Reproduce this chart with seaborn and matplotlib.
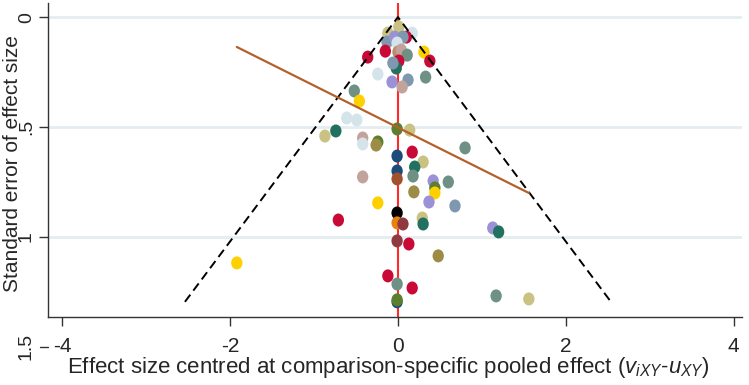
import matplotlib
matplotlib.use("Agg")
import matplotlib.pyplot as plt
import matplotlib.transforms as mtransforms
from matplotlib.path import Path
from matplotlib.transforms import Affine2D
import pandas as pd
import seaborn as sns

# valeurs (effet centré, erreur standard, couleur de la comparaison)
effect = [0.01, -0.12, 0.17, 0.10, -0.13, -0.04, 0.06, -0.01, -0.15, -0.36,
          0.31, 0.38, 0.00, 0.04, 0.11, 0.01, -0.02, -0.06, -0.24, 0.33,
          0.12, -0.07, 0.05, -0.52, -0.46, -0.61, -0.49, -0.87, -0.74, -0.01,
          0.14, -0.42, -0.42, -0.24, -0.26, 0.80, 0.17, -0.01, 0.30, -0.01,
          0.20, 0.18, -0.42, 0.42, 0.60, -0.01, 0.44, 0.19, 0.44, 0.37,
          0.68, -0.24, -0.01, 0.29, 0.30, -0.01, 0.06, -0.71, 1.13, 1.20,
          -0.01, 0.13, 0.48, -0.12, -0.01, 0.17, -0.01, -0.01, 1.17, 1.56,
          -1.92]
se = [0.045, 0.073, 0.073, 0.091, 0.114, 0.091, 0.091, 0.118, 0.155, 0.182,
      0.159, 0.200, 0.159, 0.150, 0.173, 0.200, 0.232, 0.209, 0.259, 0.273,
      0.286, 0.295, 0.318, 0.336, 0.382, 0.459, 0.468, 0.541, 0.518, 0.509,
      0.514, 0.550, 0.577, 0.568, 0.582, 0.595, 0.614, 0.632, 0.659, 0.700,
      0.682, 0.723, 0.727, 0.745, 0.750, 0.736, 0.777, 0.795, 0.800, 0.841,
      0.859, 0.845, 0.891, 0.914, 0.941, 0.936, 0.941, 0.923, 0.959, 0.977,
      1.018, 1.032, 1.086, 1.177, 1.214, 1.232, 1.295, 1.286, 1.268, 1.282,
      1.118]
group = ['khaki', 'khaki', 'lightblue', 'red', 'slate', 'lavender', 'slate', 'lightblue', 'red', 'red',
         'yellow', 'red', 'tan', 'rosy', 'graygreen', 'red', 'teal', 'slate', 'lightblue', 'graygreen',
         'slate', 'lavender', 'rosy', 'graygreen', 'yellow', 'lightblue', 'lightblue', 'khaki', 'teal', 'olive',
         'khaki', 'rosy', 'lightblue', 'olive', 'darkkhaki', 'graygreen', 'red', 'navy', 'khaki', 'navy',
         'teal', 'graygreen', 'rosy', 'lavender', 'graygreen', 'sienna', 'olive', 'darkkhaki', 'yellow', 'lavender',
         'slate', 'yellow', 'black', 'khaki', 'teal', 'orange', 'maroon', 'red', 'lavender', 'teal',
         'maroon', 'red', 'darkkhaki', 'red', 'graygreen', 'red', 'navy', 'olive', 'graygreen', 'khaki',
         'yellow']

# droite de régression (extrémités)
reg_x = [-1.92, 1.56]
reg_se = [0.136, 0.80]

palette = {
    'red': '#c90a37', 'khaki': '#c9c283', 'lightblue': '#d5e3eb', 'slate': '#7f98b0',
    'lavender': '#9a91d6', 'rosy': '#c2a39c', 'tan': '#b98a6c', 'graygreen': '#6f9185',
    'teal': '#22705f', 'yellow': '#ffd000', 'olive': '#5b7f2e', 'darkkhaki': '#9d8c45',
    'navy': '#1c4d7a', 'sienna': '#a0522d', 'black': '#000000', 'orange': '#e8820c',
    'maroon': '#8e3a40',
}

df = pd.DataFrame({'effect': effect, 'se': se, 'group': group})

sns.set_theme(style='white')
plt.rcParams['font.family'] = ['Liberation Sans', 'DejaVu Sans']
plt.rcParams['mathtext.fontset'] = 'custom'
plt.rcParams['mathtext.rm'] = 'Liberation Sans'
plt.rcParams['mathtext.it'] = 'Liberation Sans:italic'

fig = plt.figure(figsize=(7.49, 3.85), dpi=100)
ax = fig.add_axes([48 / 749, 68 / 385, 694 / 749, 314 / 385])

# grille horizontale
for g in [0, 0.5, 1]:
    ax.axhline(g, color='#e4edf1', lw=2, zorder=0)

ax.axvline(0, color='#ff2a2a', lw=1.5, zorder=1)

# points légèrement ovales comme dans l'image
ellipse = Path.unit_circle().transformed(Affine2D().scale(1, 1.15))
sns.scatterplot(data=df, x='effect', y='se', hue='group', palette=palette,
                marker=ellipse, s=88, linewidth=0, legend=False, zorder=2, ax=ax)

# entonnoir de pseudo-confiance à 95 %
se_max = df['se'].max()
ax.plot([-1.96 * se_max, 0, 1.96 * se_max], [se_max, 0, se_max],
        color='black', lw=1.4, dashes=(4.6, 2.6), zorder=3)

ax.plot(reg_x, reg_se, color='#b5602a', lw=1.6, zorder=3)

ax.set_xlim(-4.17, 4.1)
ax.set_ylim(1.364, -0.064)
ax.set_xticks([-4, -2, 0, 2, 4])
ax.set_xticklabels(['-4', '-2', '0', '2', '4'], fontsize=15)
ax.set_yticks([0, 0.5, 1])
ax.set_yticklabels(['0', '.5', '1'], fontsize=14, rotation=90, va='center')
ax.tick_params(axis='x', length=6.5, width=1, color='#333333', pad=8, bottom=True)
ax.tick_params(axis='y', length=6.5, width=1, color='#333333', pad=3, left=True)

# étiquette 1.5 hors des limites, comme sur l'original
trans = mtransforms.blended_transform_factory(ax.transAxes, ax.transData)
ax.text(-0.031, 1.5, '1.5', transform=trans, rotation=90, ha='center', va='center',
        fontsize=14, clip_on=False)
ax.plot([-0.0115, 0], [1.5, 1.5], transform=trans, color='#333333', lw=1, clip_on=False)

for s in ['top', 'right']:
    ax.spines[s].set_visible(False)
for s in ['left', 'bottom']:
    ax.spines[s].set_color('#333333')
    ax.spines[s].set_linewidth(1)

ax.set_xlabel('Effect size centred at comparison-specific pooled effect ('
              + r'$v_{iXY}$' + '-' + r'$u_{XY}$' + ')', fontsize=16)
ax.xaxis.set_label_coords(0.49, -0.12)
ax.set_ylabel('Standard error of effect size', fontsize=15)
ax.yaxis.set_label_coords(-0.037, 0.49)

fig.savefig('out.png', dpi=100)
